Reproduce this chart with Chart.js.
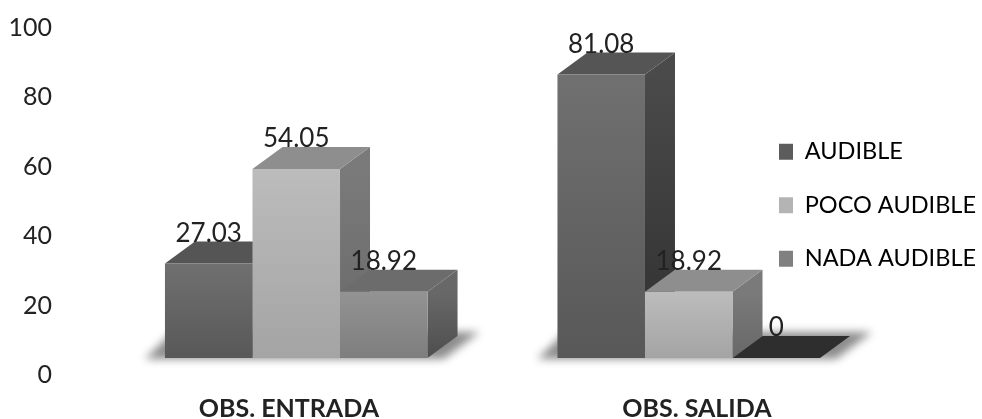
<!DOCTYPE html>
<html>
<head>
<meta charset="utf-8">
<style>
    html, body { margin: 0; padding: 0; background: #fff; }
    canvas { display: block; filter: blur(0.45px); }
</style>
<script src="https://cdn.jsdelivr.net/npm/chart.js@4/dist/chart.umd.min.js"></script>
</head>
<body>
<canvas id="chart" width="982" height="419"></canvas>
<script>
// Values
const categories = ['OBS. ENTRADA', 'OBS. SALIDA'];
const seriesNames = ['AUDIBLE', 'POCO AUDIBLE', 'NADA AUDIBLE'];
const audible = [27.03, 81.08];
const pocoAudible = [54.05, 18.92];
const nadaAudible = [18.92, 0];
const seriesValues = [audible, pocoAudible, nadaAudible];

// Greys per series: front gradient, side gradient, top face, legend swatch
const frontColors = [['#707070', '#585858'], ['#bcbcbc', '#a4a4a4'], ['#939393', '#7e7e7e']];
const sideColors = [['#4a4a4a', '#303030'], ['#7a7a7a', '#686868'], ['#686868', '#4e4e4e']];
const topColors = ['#555555', '#8e8e8e', '#6c6c6c'];
const swatchColors = ['#5c5c5c', '#b4b4b4', '#808080'];
const flatColor = '#2e2e2e';

const depthX = 30;
const depthY = 22;

function frontFill(series) {
    return context => {
        if (context.dataIndex === undefined) return frontColors[series][0];
        const scale = context.chart.scales.yBars;
        if (!scale) return frontColors[series][0];
        const g = context.chart.ctx.createLinearGradient(0, scale.getPixelForValue(context.raw), 0, scale.getPixelForValue(0));
        g.addColorStop(0, frontColors[series][0]);
        g.addColorStop(1, frontColors[series][1]);
        return g;
    };
}

function poly(ctx, points, fill) {
    ctx.beginPath();
    points.forEach((p, i) => i ? ctx.lineTo(p[0], p[1]) : ctx.moveTo(p[0], p[1]));
    ctx.closePath();
    ctx.fillStyle = fill;
    ctx.fill();
}

// Ground shadow and the side/top faces, behind the library's front faces
const depthPlugin = {
    id: 'depth',
    afterLayout(chart) {
        // Legend floats beside the bars and takes no layout room
        const legend = chart.legend;
        legend.left = 749;
        legend.right = 982;
        legend.top = 110;
        legend.bottom = 419;
    },
    beforeDatasetsDraw(chart) {
        const ctx = chart.ctx;
        const metas = seriesValues.map((v, i) => chart.getDatasetMeta(i));
        categories.forEach((c, i) => {
            const first = metas[0].data[i];
            const last = metas[2].data[i];
            const left = first.x - first.width / 2;
            const right = last.x + last.width / 2;
            const base = first.base;
            ctx.save();
            ctx.filter = 'blur(4px)';
            poly(ctx, [[left - 20, base + 1], [right + 16, base + 1], [right + 52, base - 26], [left + 8, base - 26]], 'rgba(0,0,0,0.45)');
            ctx.restore();
            metas.forEach((meta, s) => {
                const bar = meta.data[i];
                const l = bar.x - bar.width / 2;
                const r = bar.x + bar.width / 2;
                const t = bar.y;
                if (seriesValues[s][i] === 0) {
                    poly(ctx, [[l, t], [r, t], [r + depthX, t - depthY], [l + depthX, t - depthY]], flatColor);
                    return;
                }
                const g = ctx.createLinearGradient(0, t, 0, bar.base);
                g.addColorStop(0, sideColors[s][0]);
                g.addColorStop(1, sideColors[s][1]);
                poly(ctx, [[r, t], [r + depthX, t - depthY], [r + depthX, bar.base - depthY], [r, bar.base]], g);
                poly(ctx, [[l, t], [r, t], [r + depthX, t - depthY], [l + depthX, t - depthY]], topColors[s]);
            });
        });
    },
    afterDatasetsDraw(chart) {
        const ctx = chart.ctx;
        ctx.save();
        ctx.font = '26px Lato';
        ctx.fillStyle = '#222';
        ctx.textAlign = 'center';
        ctx.textBaseline = 'middle';
        seriesValues.forEach((values, s) => {
            chart.getDatasetMeta(s).data.forEach((bar, i) => {
                ctx.fillText(String(values[i]), bar.x, bar.y - 30);
            });
        });
        ctx.restore();
    }
};

new Chart(document.getElementById('chart'), {
    type: 'bar',
    data: {
        labels: categories,
        datasets: seriesNames.map((name, s) => ({
            label: name,
            data: seriesValues[s],
            xAxisID: 'xBars',
            yAxisID: 'yBars',
            backgroundColor: frontFill(s),
            borderWidth: 0,
            barPercentage: 1,
            categoryPercentage: 0.669
        }))
    },
    options: {
        responsive: false,
        animation: false,
        layout: { padding: { top: 28, right: 97, left: 0, bottom: 0 } },
        scales: {
            // Bars sit on their own hidden axes, the 3D floor is above the printed 0
            xBars: { type: 'category', axis: 'x', display: false },
            yBars: { type: 'linear', axis: 'y', display: false, min: -4.861, max: 94.37 },
            x: {
                type: 'linear',
                position: 'bottom',
                offset: false,
                min: -0.463,
                max: 1.461,
                grid: { display: false },
                border: { display: false },
                afterBuildTicks: scale => { scale.ticks = categories.map((c, i) => ({ value: i })); },
                afterFit: scale => { scale.height = 44; },
                ticks: {
                    callback: value => categories[value],
                    autoSkip: false,
                    maxRotation: 0,
                    padding: 11,
                    color: '#222',
                    font: { family: 'Lato', size: 25, weight: 'bold' }
                }
            },
            y: {
                type: 'linear',
                position: 'left',
                min: 0,
                max: 100,
                grid: { display: false },
                border: { display: false },
                afterFit: scale => {
                    scale.width = 100;
                    scale.paddingTop = 0;
                    scale.paddingBottom = 0;
                },
                ticks: {
                    stepSize: 20,
                    padding: 40,
                    color: '#222',
                    font: { family: 'Lato', size: 25 }
                }
            }
        },
        plugins: {
            title: { display: false },
            tooltip: { enabled: false },
            legend: {
                position: 'chartArea',
                fullSize: false,
                align: 'start',
                labels: {
                    boxWidth: 14,
                    boxHeight: 16,
                    padding: 30,
                    color: '#222',
                    font: { family: 'Lato', size: 23.5 },
                    generateLabels: () => seriesNames.map((name, s) => ({
                        text: name,
                        fillStyle: swatchColors[s],
                        strokeStyle: swatchColors[s],
                        lineWidth: 0,
                        datasetIndex: s
                    }))
                }
            }
        }
    },
    plugins: [depthPlugin]
});
</script>
</body>
</html>
